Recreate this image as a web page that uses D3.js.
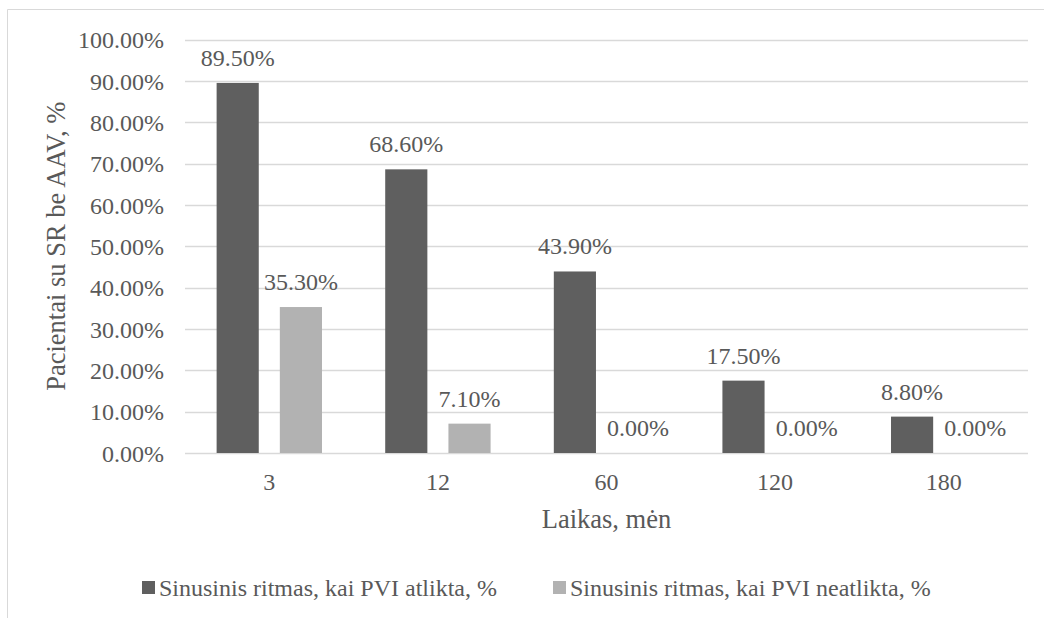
<!DOCTYPE html>
<html>
<head>
<meta charset="utf-8">
<script src="https://cdn.jsdelivr.net/npm/d3@7"></script>
<style>
  html, body { margin: 0; padding: 0; background: #fff; }
  svg { display: block; }
</style>
</head>
<body>
<svg id="chart" width="1044" height="618"></svg>
<script>
const categories = ["3", "12", "60", "120", "180"];
const seriesNames = ["Sinusinis ritmas, kai PVI atlikta, %", "Sinusinis ritmas, kai PVI neatlikta, %"];
const seriesDone = [0.895, 0.686, 0.439, 0.175, 0.088];
const seriesNotDone = [0.353, 0.071, 0.0, 0.0, 0.0];
const yTicks = [0, 0.1, 0.2, 0.3, 0.4, 0.5, 0.6, 0.7, 0.8, 0.9, 1.0];
const colors = ["#5f5f5f", "#b2b2b2"];
const yTitle = "Pacientai su SR be AAV, %";
const xTitle = "Laikas, mėn";

(function () {
const FONT = "'Liberation Serif', 'Times New Roman', Times, serif";
const TXT = "#595959";
const svg = d3.select("#chart").attr("font-family", FONT);
const pLeft = 185, pRight = 1028, pTop = 39.5, pBottom = 453;

// chart border (partially visible)
svg.append("path").attr("d", "M7.5,618 L7.5,9.5 L1044,9.5")
  .attr("fill", "none").attr("stroke", "#d9d9d9").attr("stroke-width", 1);

const x = d3.scaleBand().domain(categories).range([pLeft, pRight]).paddingInner(0).paddingOuter(0);
const y = d3.scaleLinear().domain([0, 1]).range([pBottom, pTop]);
const barW = x.bandwidth() / 4;
const gapW = barW / 2;
const groupW = barW * 2 + gapW;

// gridlines
svg.append("g").selectAll("line").data(yTicks).join("line")
  .attr("x1", pLeft).attr("x2", pRight)
  .attr("y1", d => Math.round(y(d)) + 0.5).attr("y2", d => Math.round(y(d)) + 0.5)
  .attr("stroke", "#d9d9d9").attr("stroke-width", 1.3);

// y axis labels
const yAxis = d3.axisLeft(y).tickValues(yTicks).tickFormat(d => (d * 100).toFixed(2) + "%").tickSize(0).tickPadding(21);
const yg = svg.append("g").attr("transform", `translate(${pLeft},0)`).call(yAxis)
  .attr("font-family", FONT).attr("font-size", 24);
yg.select(".domain").remove();
yg.selectAll("text").attr("fill", TXT).attr("dy", "0.34em");

// x axis labels
const xAxis = d3.axisBottom(x).tickSize(0).tickPadding(0);
const xg = svg.append("g").attr("transform", `translate(0,${pBottom})`).call(xAxis)
  .attr("font-family", FONT).attr("font-size", 24);
xg.select(".domain").remove();
xg.selectAll("text").attr("fill", TXT).attr("y", 29).attr("dy", "0.34em");

const series = [seriesDone, seriesNotDone];
series.forEach((vals, si) => {
  const g = svg.append("g");
  const xPos = (c) => x(c) + (x.bandwidth() - groupW) / 2 + si * (barW + gapW);
  g.selectAll("rect").data(categories).join("rect")
    .attr("x", c => xPos(c))
    .attr("y", (c, i) => y(vals[i]))
    .attr("width", barW)
    .attr("height", (c, i) => pBottom - y(vals[i]))
    .attr("fill", colors[si]);
  g.selectAll("text").data(categories).join("text")
    .attr("x", c => xPos(c) + barW / 2)
    .attr("y", (c, i) => y(vals[i]) - 17)
    .attr("text-anchor", "middle")
    .attr("font-size", 24).attr("fill", TXT)
    .text((c, i) => (vals[i] * 100).toFixed(2) + "%");
});

// axis titles
svg.append("text")
  .attr("transform", `translate(65,${(pTop + pBottom) / 2}) rotate(-90)`)
  .attr("text-anchor", "middle").attr("font-size", 26.5).attr("fill", TXT).text(yTitle);
svg.append("text")
  .attr("x", (pLeft + pRight) / 2).attr("y", 528)
  .attr("text-anchor", "middle").attr("font-size", 26.5).attr("fill", TXT).text(xTitle);

// legend
const legendX = [142, 553];
const lg = svg.append("g");
seriesNames.forEach((name, i) => {
  lg.append("rect").attr("x", legendX[i]).attr("y", 581).attr("width", 13).attr("height", 13).attr("fill", colors[i]);
  lg.append("text").attr("x", legendX[i] + 17).attr("y", 596).attr("font-size", 24).attr("fill", TXT).text(name);
});
})();
</script>
</body>
</html>
